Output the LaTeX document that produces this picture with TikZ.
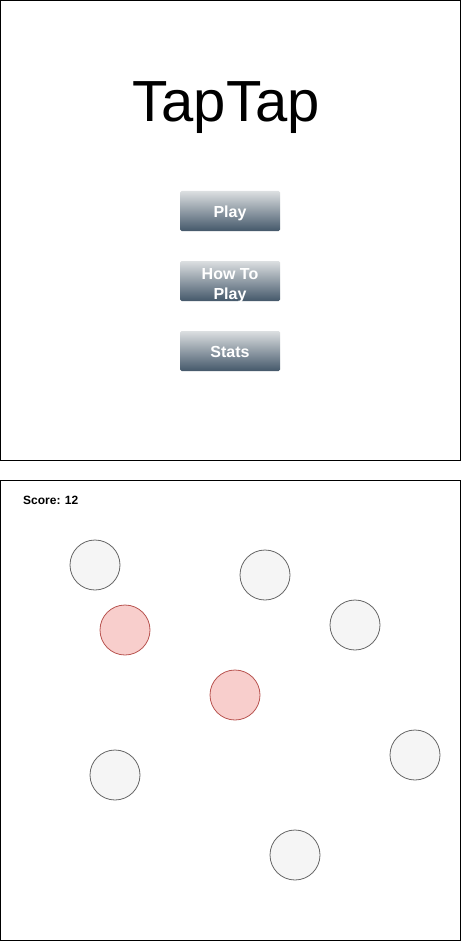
\documentclass[tikz,border=0pt]{standalone}
\usepackage{fontspec}
\setmainfont{Liberation Sans}
\usetikzlibrary{positioning}
\definecolor{greyfill}{HTML}{F5F5F5}
\definecolor{greyline}{HTML}{666666}
\definecolor{redfill}{HTML}{F8CECC}
\definecolor{redline}{HTML}{B85450}
\definecolor{btntop}{HTML}{DCDFE1}
\definecolor{btnbottom}{HTML}{44586A}
\newcommand{\btnstrut}{\rule[-3.5pt]{0pt}{20.5pt}}
\tikzset{
  screen/.style={draw=black, line width=1pt},
  menubtn/.style={rectangle, rounded corners=1.5pt, minimum width=100pt, minimum height=40pt,
    inner sep=0pt, top color=btntop, bottom color=btnbottom, text=white, align=center,
    font=\fontsize{16}{20}\selectfont\bfseries},
  greyball/.style={circle, minimum size=50pt, inner sep=0pt, draw=greyline, fill=greyfill, line width=0.8pt},
  redball/.style={circle, minimum size=50pt, inner sep=0pt, draw=redline, fill=redfill, line width=0.8pt}
}
\begin{document}
\begin{tikzpicture}[x=1pt, y=-1pt]
  \useasboundingbox (0,0) rectangle (461,941);
  % menu screen
  \draw[screen] (0.5,0.5) rectangle (460.5,460.5);
  \node[anchor=base, inner sep=0pt, font=\fontsize{58}{70}\selectfont] (title) at (226,122) {TapTap};
  \node[menubtn] (play) at (230,211) {\btnstrut Play};
  \node[menubtn] (howto) at (230,281) {\rule{0pt}{16pt}How To\\\smash{Play}};
  \node[menubtn] (stats) at (230,351) {\btnstrut Stats};

  % game screen
  \draw[screen] (0.5,480.5) rectangle (460.5,940.5);
  \node[anchor=base west, inner sep=0pt, font=\fontsize{12}{14}\selectfont\bfseries] (score) at (23,504) {Score: 12};
  % bubbles
  \node[greyball] (g1) at (95,565) {};
  \node[greyball] (g2) at (265,575) {};
  \node[greyball] (g3) at (355,625) {};
  \node[greyball] (g4) at (415,755) {};
  \node[greyball] (g5) at (115,775) {};
  \node[greyball] (g6) at (295,855) {};
  \node[redball] (r1) at (125,630) {};
  \node[redball] (r2) at (235,695) {};
\end{tikzpicture}
\end{document}
